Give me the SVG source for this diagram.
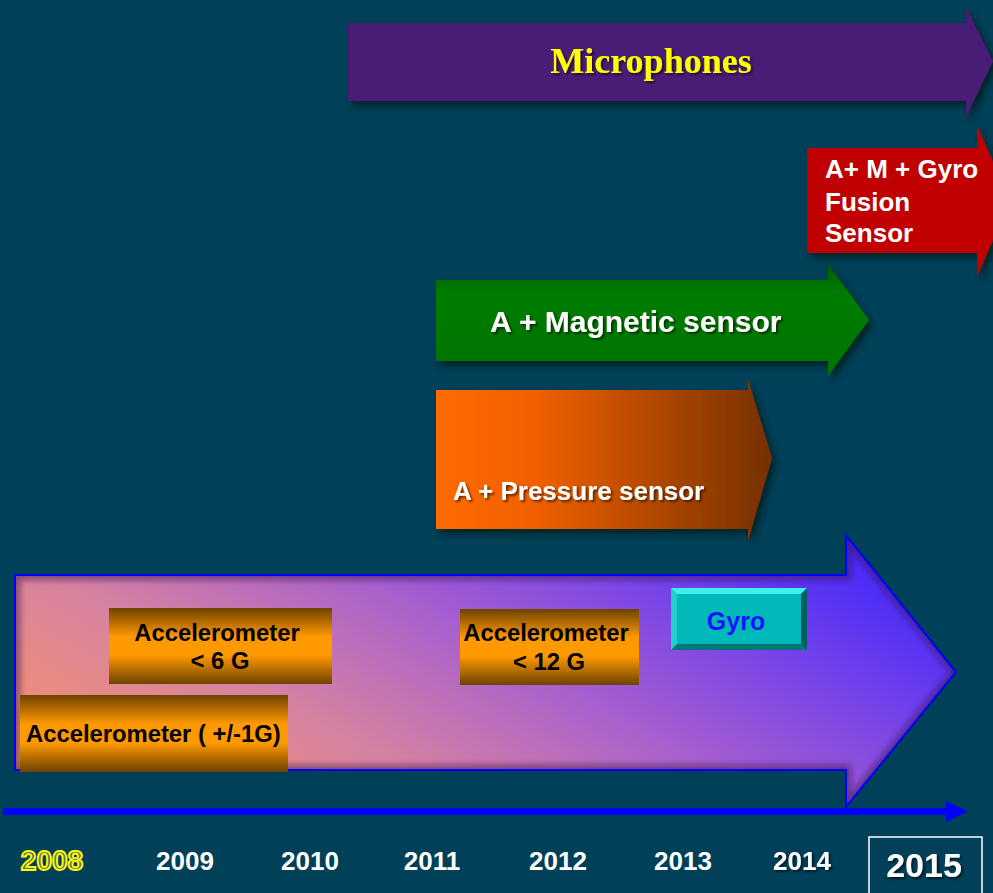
<svg xmlns="http://www.w3.org/2000/svg" width="993" height="893" viewBox="0 0 993 893">
  <style>
    .sans { font-family: "Liberation Sans", Arial, sans-serif; font-weight: bold; }
    .serif { font-family: "Liberation Serif", "Times New Roman", serif; font-weight: bold; }
    .white { fill: #ffffff; }
    .black { fill: #000000; }
    .year { font-size: 26px; fill: #ffffff; text-anchor: middle; }
    .acc { font-size: 23.8px; }
  </style>
  <defs>
    <filter id="shapeShadow" x="-10%" y="-10%" width="130%" height="140%">
      <feDropShadow dx="4" dy="5" stdDeviation="3" flood-color="#001a24" flood-opacity="0.85"/>
    </filter>
    <filter id="textShadow" x="-10%" y="-30%" width="130%" height="170%">
      <feDropShadow dx="2" dy="2" stdDeviation="1" flood-color="#000000" flood-opacity="0.55"/>
    </filter>
    <filter id="innerBlur" x="-10%" y="-10%" width="120%" height="120%">
      <feGaussianBlur stdDeviation="3"/>
    </filter>
    <linearGradient id="gradBig" gradientUnits="userSpaceOnUse" x1="100" y1="800" x2="400" y2="260">
      <stop offset="0" stop-color="#f6926c"/>
      <stop offset="0.28" stop-color="#d682a0"/>
      <stop offset="0.55" stop-color="#a25cd2"/>
      <stop offset="0.75" stop-color="#7442ea"/>
      <stop offset="0.95" stop-color="#4428fa"/>
    </linearGradient>
    <linearGradient id="gradGreen" x1="0" y1="0" x2="0" y2="1">
      <stop offset="0" stop-color="#005a00"/>
      <stop offset="0.25" stop-color="#007c00"/>
      <stop offset="1" stop-color="#007400"/>
    </linearGradient>
    <linearGradient id="gradOrange" x1="0" y1="0" x2="1" y2="0">
      <stop offset="0" stop-color="#ff6a00"/>
      <stop offset="0.3" stop-color="#f06000"/>
      <stop offset="1" stop-color="#743000"/>
    </linearGradient>
    <linearGradient id="gradBox" x1="0" y1="0" x2="0" y2="1">
      <stop offset="0" stop-color="#6e4200"/>
      <stop offset="0.38" stop-color="#ff9900"/>
      <stop offset="0.62" stop-color="#ff9900"/>
      <stop offset="1" stop-color="#6e4200"/>
    </linearGradient>
    <clipPath id="bigClip">
      <path d="M15,575 H846 V535 L956,672 L846,807 V770 H15 Z"/>
    </clipPath>
  </defs>

  <!-- background -->
  <rect x="0" y="0" width="993" height="893" fill="#004058"/>

  <!-- base accelerometer arrow -->
  <g id="accelerometer-arrow">
    <path d="M15,575 H846 V535 L956,672 L846,807 V770 H15 Z" fill="url(#gradBig)"/>
    <g clip-path="url(#bigClip)">
      <path d="M15,575 H846 V535 L956,672 L846,807 V770 H15 Z" fill="none" stroke="#3a1a50" stroke-opacity="0.55" stroke-width="10" filter="url(#innerBlur)"/>
    </g>
    <path d="M15,575 H846 V535 L956,672 L846,807 V770 H15 Z" fill="none" stroke="#0000ff" stroke-width="2"/>
  </g>

  <!-- microphones -->
  <g id="microphones">
    <path d="M348,23 H966 V7 L993,61 L966,117 V101 H348 Z" fill="#4a1a76" filter="url(#shapeShadow)"/>
    <text class="serif" x="651" y="73" font-size="36" fill="#ffff00" text-anchor="middle" filter="url(#textShadow)">Microphones</text>
  </g>

  <!-- fusion sensor -->
  <g id="fusion-sensor">
    <path d="M807,148 H977 V125 L1010,201 L977,277 V253 H807 Z" fill="#c00000" filter="url(#shapeShadow)"/>
    <text class="sans white" font-size="26" x="825" y="178">A+ M + Gyro</text>
    <text class="sans white" font-size="26" x="825" y="211">Fusion</text>
    <text class="sans white" font-size="26" x="825" y="242">Sensor</text>
  </g>

  <!-- magnetic sensor -->
  <g id="magnetic-sensor">
    <path d="M436,280 H828 V264 L869,320 L828,376 V361 H436 Z" fill="url(#gradGreen)" filter="url(#shapeShadow)"/>
    <text class="sans white" font-size="30" x="490" y="332" filter="url(#textShadow)">A + Magnetic sensor</text>
  </g>

  <!-- pressure sensor -->
  <g id="pressure-sensor">
    <path d="M436,390 H748 V379 L772,458 L748,541 V529 H436 Z" fill="url(#gradOrange)" filter="url(#shapeShadow)"/>
    <text class="sans white" font-size="26" x="453" y="500" filter="url(#textShadow)">A + Pressure sensor</text>
  </g>

  <!-- accelerometer boxes -->
  <g id="acc-6g">
    <rect x="109" y="608" width="223" height="76" fill="url(#gradBox)"/>
    <text class="sans black acc" x="217" y="641" text-anchor="middle">Accelerometer</text>
    <text class="sans black acc" x="220" y="669" text-anchor="middle">&lt; 6 G</text>
  </g>

  <g id="acc-1g">
    <rect x="20" y="695" width="268" height="77" fill="url(#gradBox)"/>
    <text class="sans black acc" x="26" y="742">Accelerometer ( +/-1G)</text>
  </g>

  <g id="acc-12g">
    <rect x="460" y="609" width="179" height="76" fill="url(#gradBox)"/>
    <text class="sans black acc" x="546" y="641" text-anchor="middle">Accelerometer</text>
    <text class="sans black acc" x="549" y="670" text-anchor="middle">&lt; 12 G</text>
  </g>

  <!-- gyro bevelled button -->
  <g id="gyro">
    <rect x="671" y="588" width="136" height="62" fill="#00b8b8"/>
    <polygon points="671,588 807,588 801,594 677,594" fill="#40eeee"/>
    <polygon points="671,588 677,594 677,644 671,650" fill="#20d0d0"/>
    <polygon points="671,650 677,644 801,644 807,650" fill="#007878"/>
    <polygon points="807,588 807,650 801,644 801,594" fill="#005e5e"/>
    <text class="sans" x="736" y="630" font-size="25" fill="#1414ff" text-anchor="middle">Gyro</text>
  </g>

  <!-- time axis -->
  <g id="connectors">
    <line x1="3" y1="811.5" x2="950" y2="811.5" stroke="#0000ff" stroke-width="7"/>
    <polygon points="946,801 968,811.5 946,822" fill="#0000ff"/>
  </g>

  <!-- year labels -->
  <g id="years">
    <text class="sans" x="52" y="870" font-size="28" text-anchor="middle" fill="#6e6e5e" stroke="#ffff00" stroke-width="1.8">2008</text>
    <text class="sans year" x="185" y="870">2009</text>
    <text class="sans year" x="310" y="870">2010</text>
    <text class="sans year" x="432" y="870">2011</text>
    <text class="sans year" x="558" y="870">2012</text>
    <text class="sans year" x="683" y="870">2013</text>
    <text class="sans year" x="802" y="870" fill="#f0f0f0" filter="url(#textShadow)">2014</text>
    <rect x="869" y="837" width="113" height="70" fill="none" stroke="#ffffff" stroke-width="1.5"/>
    <text class="sans" x="924" y="877" font-size="34" fill="#ffffff" text-anchor="middle" filter="url(#textShadow)">2015</text>
  </g>
</svg>
